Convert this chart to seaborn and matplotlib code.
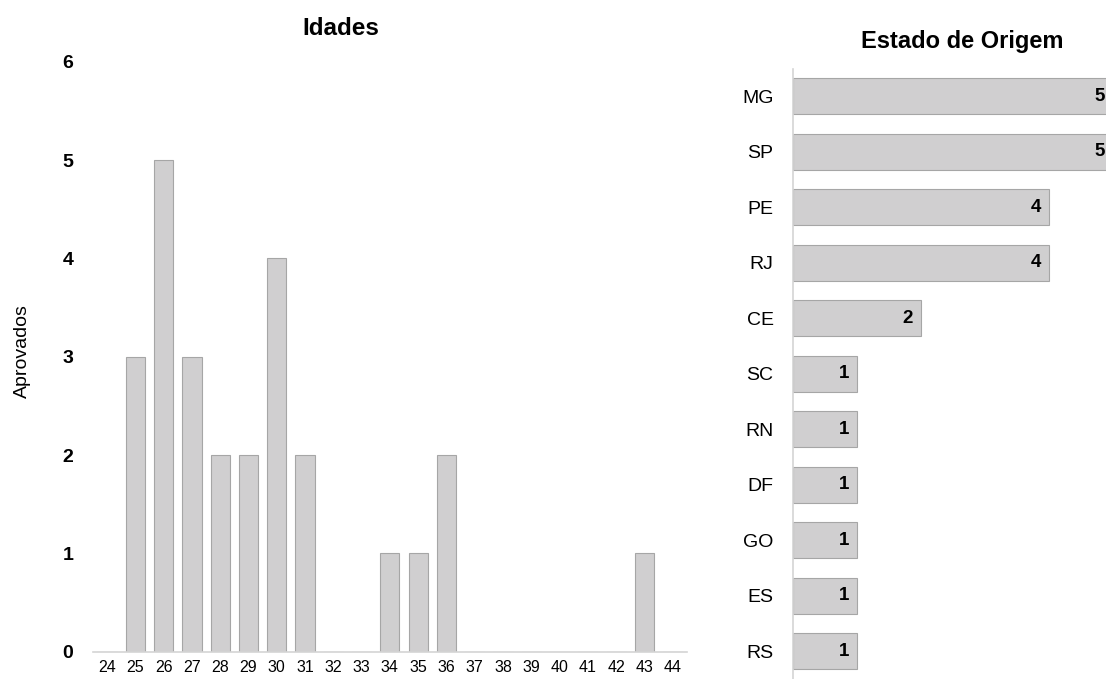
import pandas as pd
import matplotlib.pyplot as plt
import seaborn as sns

sns.set_style('white')
plt.rcParams['font.family'] = ['Liberation Sans', 'DejaVu Sans']
plt.rcParams['text.color'] = 'black'
plt.rcParams['axes.labelcolor'] = 'black'
plt.rcParams['xtick.labelcolor'] = 'black'
plt.rcParams['ytick.labelcolor'] = 'black'

# Idades (ages) and number approved
idades = [24, 25, 26, 27, 28, 29, 30, 31, 32, 33, 34, 35, 36, 37, 38, 39, 40, 41, 42, 43, 44]
aprovados = [0, 3, 5, 3, 2, 2, 4, 2, 0, 0, 1, 1, 2, 0, 0, 0, 0, 0, 0, 1, 0]

# Estado de origem
estados = ['MG', 'SP', 'PE', 'RJ', 'CE', 'SC', 'RN', 'DF', 'GO', 'ES', 'RS']
qtd_estado = [5, 5, 4, 4, 2, 1, 1, 1, 1, 1, 1]

df_idade = pd.DataFrame({'idade': [str(i) for i in idades], 'aprovados': aprovados})
df_estado = pd.DataFrame({'estado': estados, 'qtd': qtd_estado})

bar_color = '#d0cfd0'
edge_color = '#a6a6a6'
axis_color = '#d4d4d4'

fig = plt.figure(figsize=(11.06, 6.79), dpi=100)

# 1. Idades
ax1 = fig.add_axes([0.084, 0.040, 0.537, 0.869])
sns.barplot(data=df_idade, x='idade', y='aprovados', color=bar_color,
            edgecolor=edge_color, linewidth=0.8, width=0.68, saturation=1, ax=ax1)
ax1.set_ylim(0, 6)
ax1.set_xlim(-0.5, len(idades) - 0.5)
ax1.set_yticks(range(0, 7))
ax1.set_yticklabels([str(v) for v in range(0, 7)], fontweight='bold', fontsize=14)
ax1.tick_params(axis='y', length=0, pad=14)
ax1.tick_params(axis='x', direction='inout', length=6, color=axis_color, labelsize=11.5, pad=3)
ax1.set_xlabel('')
ax1.set_ylabel('Aprovados', fontsize=14)
ax1.yaxis.set_label_coords(-0.104, 0.51)
ax1.set_title('Idades', fontsize=17.5, fontweight='bold', x=0.418, pad=19)
for s in ['top', 'right', 'left']:
    ax1.spines[s].set_visible(False)
ax1.spines['bottom'].set_color(axis_color)
ax1.spines['bottom'].set_linewidth(1.2)

# 2. Estado de Origem
ax2 = fig.add_axes([0.717, 0.0, 0.283, 0.899])
sns.barplot(data=df_estado, y='estado', x='qtd', color=bar_color, orient='h',
            edgecolor=edge_color, linewidth=0.8, width=0.65, saturation=1, ax=ax2)
ax2.set_xlim(0, 4.9)
ax2.set_ylim(len(estados) - 0.5, -0.5)
for i, v in enumerate(qtd_estado):
    ax2.text(v - 0.12, i, str(v), ha='right', va='center', fontsize=13.5, fontweight='bold')
ax2.set_xticks([])
ax2.set_xlabel('')
ax2.set_ylabel('')
ax2.tick_params(axis='y', length=0, labelsize=14, pad=14)
ax2.set_title('Estado de Origem', fontsize=17, fontweight='bold', x=0.54, pad=15)
for s in ['top', 'right', 'bottom']:
    ax2.spines[s].set_visible(False)
ax2.spines['left'].set_color(axis_color)
ax2.spines['left'].set_linewidth(1.2)

plt.savefig('out.png', dpi=100)
